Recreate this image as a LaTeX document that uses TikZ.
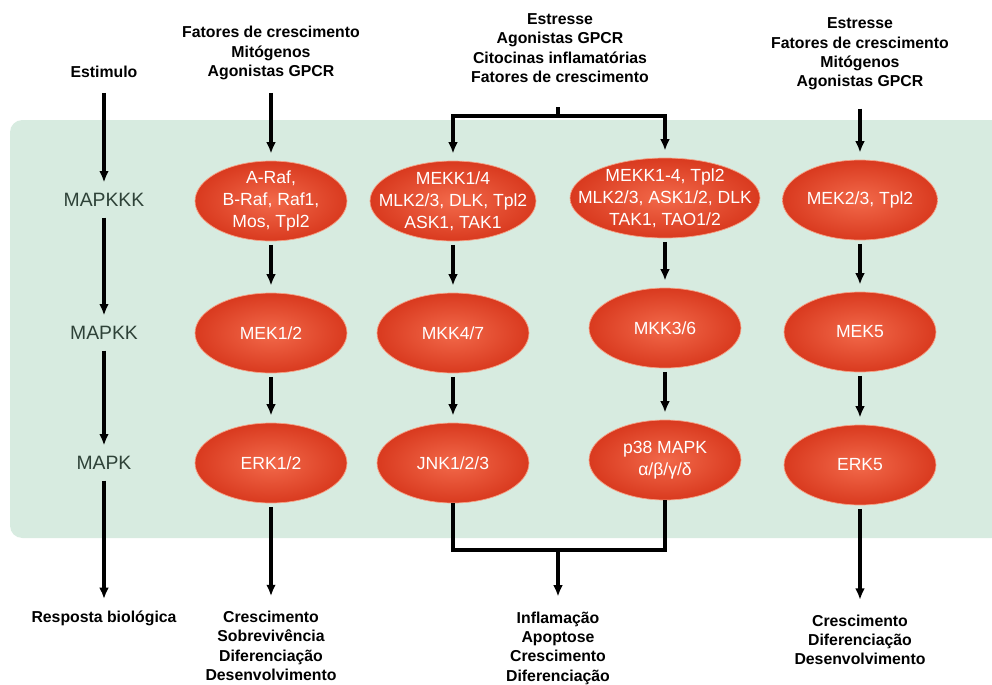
\documentclass[tikz,border=0pt]{standalone}
\usepackage{fontspec}
\setmainfont{Liberation Sans}
\usetikzlibrary{shapes.geometric,arrows.meta}
\definecolor{panel}{HTML}{D7EBE0}
\definecolor{kinlight}{HTML}{F2694A}
\definecolor{kindark}{HTML}{D93A1F}
\definecolor{kinrim}{HTML}{F6A085}
\definecolor{lvlcol}{HTML}{2E4238}

\begin{document}
\begin{tikzpicture}[x=0.02cm,y=-0.02cm,
        lbl/.style={align=center,font=\fontsize{9}{11}\selectfont\bfseries},
        lvl/.style={font=\fontsize{11}{13}\selectfont,text=lvlcol,inner ysep=6pt},
        kin/.style={ellipse,minimum width=3.04cm,minimum height=1.6cm,inner sep=0pt,
          draw=kinrim,inner color=kinlight,outer color=kindark,
          label={[kintxt]center:{#1}}},
        kintxt/.style={text=white,align=center,font=\fontsize{10}{12.5}\selectfont},
        arr/.style={-{Latex[length=6.5pt,width=5.5pt]},line width=2.2pt},
        bar/.style={line width=2.2pt}]
        \useasboundingbox (0,0) rectangle (992,684) ;
        %\draw[very thin,gray,step=50] (0,0) grid (992,684) ;
        \fill[panel,rounded corners=7pt] (10,120) rectangle (1004,538) ;

        % stimuli
        \node[lbl] (stim) at (104,72) {Estimulo} ;
        \node[lbl] (in1) at (271,53) {Fatores de crescimento\\Mitógenos\\Agonistas GPCR} ;
        \node[lbl] (in23) at (560,48) {Estresse\\Agonistas GPCR\\Citocinas inflamatórias\\Fatores de crescimento} ;
        \node[lbl] (in4) at (860,54) {Estresse\\Fatores de crescimento\\Mitógenos\\Agonistas GPCR} ;

        % levels
        \node[lvl] (kkk) at (104,200) {MAPKKK} ;
        \node[lvl] (kk) at (104,333) {MAPKK} ;
        \node[lvl] (k) at (104,463) {MAPK} ;

        % MAPKKK
        \node[kin={A-Raf,\\B-Raf, Raf1,\\Mos, Tpl2}] (kkk1) at (271,201) {} ;
        \node[kin={MEKK1/4\\MLK2/3, DLK, Tpl2\\ASK1, TAK1},minimum width=3.32cm] (kkk2) at (453,201) {} ;
        \node[kin={MEKK1-4, Tpl2\\MLK2/3, ASK1/2, DLK\\TAK1, TAO1/2},minimum width=3.8cm] (kkk3) at (665,198) {} ;
        \node[kin={MEK2/3, Tpl2},minimum width=3.1cm] (kkk4) at (860,200) {} ;
        % MAPKK
        \node[kin={MEK1/2}] (kk1) at (271,333) {} ;
        \node[kin={MKK4/7}] (kk2) at (453,333) {} ;
        \node[kin={MKK3/6}] (kk3) at (665,328) {} ;
        \node[kin={MEK5}] (kk4) at (860,332) {} ;
        % MAPK
        \node[kin={ERK1/2}] (k1) at (271,463) {} ;
        \node[kin={JNK1/2/3}] (k2) at (453,463) {} ;
        \node[kin={p38 MAPK\\α/β/γ/δ}] (k3) at (665,460) {} ;
        \node[kin={ERK5}] (k4) at (860,465) {} ;

        % responses
        \node[lbl] (out0) at (104,618) {Resposta biológica} ;
        \node[lbl] (out1) at (271,646) {Crescimento\\Sobrevivência\\Diferenciação\\Desenvolvimento} ;
        \node[lbl] (out23) at (558,648) {Inflamação\\Apoptose\\Crescimento\\Diferenciação} ;
        \node[lbl] (out4) at (860,640) {Crescimento\\Diferenciação\\Desenvolvimento} ;

        % left column
        \draw[arr,shorten <=5pt] (stim) -- (kkk) ;
        \draw[arr] (kkk) -- (kk) ;
        \draw[arr] (kk) -- (k) ;
        \draw[arr,shorten >=3pt] (k) -- (out0) ;

        % cascades
        \draw[arr,shorten <=4pt,shorten >=4pt] (in1) -- (kkk1) ;
        \draw[arr,shorten <=7pt,shorten >=4pt] (in4) -- (kkk4) ;
        \foreach \a/\b in {kkk1/kk1,kk1/k1,kkk2/kk2,kk2/k2,kkk3/kk3,kk3/k3,kkk4/kk4,kk4/k4}
          \draw[arr,shorten <=2pt,shorten >=4pt] (\a) -- (\b) ;
        \draw[arr,shorten <=2pt,shorten >=5pt] (k1) -- (out1) ;
        \draw[arr,shorten <=2pt,shorten >=5pt] (k4) -- (out4) ;

        % shared input
        \coordinate (tick) at (558,107) ;
        \coordinate (split) at (558,116) ;
        \draw[bar] (tick) -- (split) ;
        \draw[arr,shorten >=4pt] (split) -| (kkk2) ;
        \draw[arr,shorten >=4pt] (split) -| (kkk3) ;

        % shared output
        \coordinate (merge) at (558,550) ;
        \draw[bar] (k2) |- (merge) ;
        \draw[bar] (k3) |- (merge) ;
        \draw[arr,shorten >=5pt] (merge) -- (out23) ;
\end{tikzpicture}
\end{document}
